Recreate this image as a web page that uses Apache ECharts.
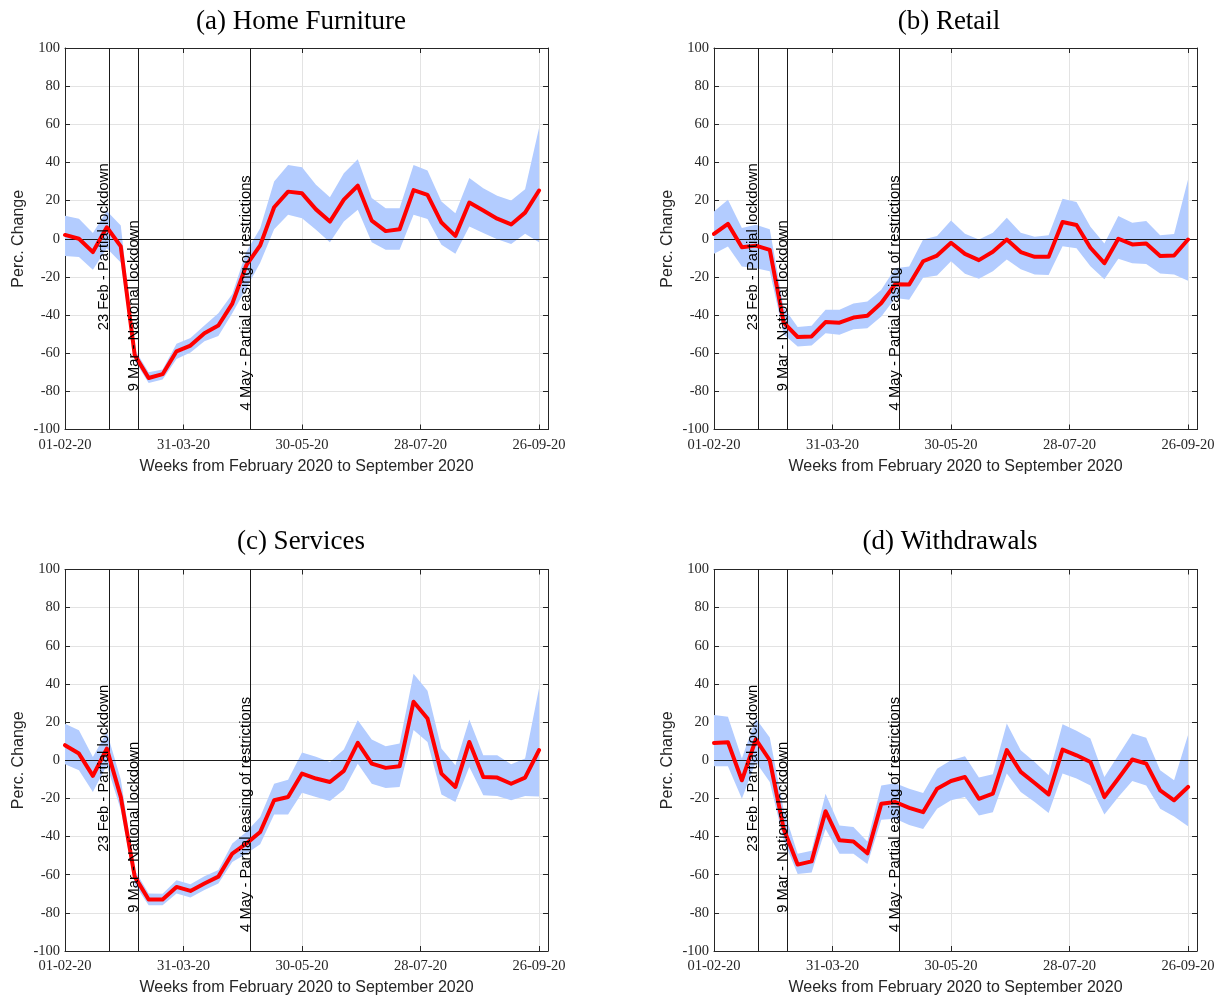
<!DOCTYPE html>
<html>
<head>
<meta charset="utf-8">
<script src="https://cdn.jsdelivr.net/npm/echarts@6/dist/echarts.min.js"></script>
<style>
html,body{margin:0;padding:0;background:#ffffff;}
#chart{width:1222px;height:1000px;}
</style>
</head>
<body>
<div id="chart"></div>
<script>
// ---- data (days since 01-02-2020, weekly) ----
const weekDays = [0,7,14,21,28,35,42,49,56,63,70,77,84,91,98,105,112,119,126,133,140,147,154,161,168,175,182,189,196,203,210,217,224,231,238];
const xTickDays = [0, 59.5, 119, 178.5, 238];
const xTickLabels = ['01-02-20','31-03-20','30-05-20','28-07-20','26-09-20'];
const eventDays = [22, 37, 93];
const eventLabels = ['23 Feb - Partial lockdown', '9 Mar - National lockdown', '4 May - Partial easing of restrictions'];
const eventLabelStart = [-48, -80, -90];
const panelTitles = ['(a) Home Furniture', '(b) Retail', '(c) Services', '(d) Withdrawals'];
const xAxisTitle = 'Weeks from February 2020 to September 2020';
const yAxisTitle = 'Perc. Change';

const hfMid = [2, 0, -7, 6, -4, -61, -73, -71, -59, -56, -49.5, -45.5, -34, -14, -3.5, 16.5, 24.7, 23.8, 15.4, 9, 20.5, 27.8, 9.5, 4, 5, 25.5, 23, 8.5, 1.5, 19, 14.8, 10.5, 7.5, 13.7, 25.3];
const hfUp  = [12, 10.5, 3, 14.5, 7, -58, -70, -68.5, -55, -52, -45.5, -39, -29, -7, 5.5, 30, 38.7, 37.5, 28.3, 21.8, 34.4, 41.7, 21.3, 16, 16, 38.7, 35.8, 19.5, 13.4, 31.8, 26.5, 22.5, 20, 26, 58];
const hfLo  = [-9, -9.6, -16.2, -5, -12.5, -64, -75.6, -73.8, -63, -59.6, -53.7, -51, -39, -26, -12.6, 5, 12.6, 10.8, 4.7, -1.9, 9, 15.2, -1.9, -5.8, -5.8, 12.6, 10.3, -3.1, -7.9, 6.4, 3, -0.2, -2.8, 2.6, -1.9];

const rtMid = [2.5, 7.8, -4.5, -3.6, -5.8, -44, -51.5, -51.2, -43.7, -44, -41.3, -40.4, -33.7, -23.8, -24, -11.8, -8.8, -2.1, -7.9, -11.2, -6.8, -0.4, -7, -9.5, -9.5, 8.8, 7.2, -4.7, -12.8, 0, -3, -2.5, -9.1, -8.8, -0.4];
const rtUp  = [14.3, 20.5, 5.6, 7.3, 5, -36, -46.3, -45.6, -37.2, -37.2, -34, -32.9, -26.7, -15.4, -14.5, -0.4, 1.4, 9.6, 2.6, -0.4, 3.2, 11, 3.2, 1, 1.8, 21, 19.3, 6.3, -2.5, 11.9, 8.4, 9.3, 1.9, 2.5, 31];
const rtLo  = [-7.9, -4, -14.5, -15.4, -17, -50, -56.5, -56, -49.5, -50.3, -47.4, -46.9, -40.7, -31, -32, -20.5, -19.3, -11.8, -18.4, -21, -17, -10.9, -16, -18.8, -19, -3.9, -5, -14.4, -21.2, -10.5, -12.8, -13.3, -18.2, -18.8, -22];

const svMid = [7.9, 3.5, -8.2, 6.1, -19.2, -61, -73, -73, -66.4, -68.5, -64.6, -61, -48.9, -43.7, -37.6, -21, -19.3, -7, -9.6, -11.4, -5.6, 9.1, -1.8, -4, -3.2, 30.7, 21.9, -7, -14, 9.6, -8.8, -9.1, -12.3, -9.1, 5.3];
const svUp  = [19.2, 15.7, 1.7, 14.8, -10, -57.6, -69.9, -70, -62.9, -65, -60.8, -57.6, -43.7, -37.6, -29.7, -12.3, -10.2, 4, 1.8, -0.9, 5.6, 21, 10.9, 7.4, 8.8, 45.3, 36.5, 6.1, -2.6, 21.4, 2.6, 2.6, -2.1, 0.9, 37.7];
const svLo  = [-2.1, -5.2, -16.6, -2.6, -26, -65, -76, -76, -69.9, -72, -68, -64.6, -53.3, -49, -44, -28.4, -28.4, -17, -19.3, -21.4, -15.4, -1.8, -12.3, -14.6, -14, 15.8, 9.6, -17.9, -21.9, -3.5, -18.4, -18.8, -21, -18.8, -19];

const wdMid = [9.1, 9.5, -10.5, 10.9, 0, -36, -54.7, -53, -26.7, -42, -42.6, -48.8, -22.8, -21.9, -25, -27.2, -14.9, -10.9, -8.8, -20.2, -17.5, 5.3, -6.1, -11.9, -17.9, 5.6, 2.6, -0.9, -19.3, -9.6, 0.4, -1.8, -15.8, -21, -14];
const wdUp  = [23.7, 22.8, 0.9, 21.9, 11.9, -26, -49, -47.4, -17.5, -34.2, -35, -42.6, -13.2, -12, -15, -17.2, -4.4, 0, 2.1, -9.1, -7.4, 19.3, 5.3, -0.9, -7.9, 18.9, 15.4, 11.4, -8.8, 2.6, 14, 11.8, -5.3, -10.5, 13.2];
const wdLo  = [-3.2, -3.2, -20.2, -0.9, -11.4, -42, -59.6, -58.8, -36, -49, -49, -54.4, -31.2, -30.7, -34, -36, -25.4, -21, -19.3, -28.9, -27.2, -7, -16.7, -21.9, -27.7, -7, -9.6, -13.2, -28.4, -19.3, -10.9, -13.2, -25.4, -29.5, -34.6];

// ---- layout / style ----
const panels = [
  {title: panelTitles[0], mid: hfMid, up: hfUp, lo: hfLo, left: 65,  top: 48,    titleX: 296, titleY: 3},
  {title: panelTitles[1], mid: rtMid, up: rtUp, lo: rtLo, left: 714, top: 48,    titleX: 944, titleY: 3},
  {title: panelTitles[2], mid: svMid, up: svUp, lo: svLo, left: 65,  top: 569.5, titleX: 296, titleY: 523},
  {title: panelTitles[3], mid: wdMid, up: wdUp, lo: wdLo, left: 714, top: 569.5, titleX: 945, titleY: 523}
];
const PW = 483, PH = 381.5;
const axisColor = '#262626';
const gridColor = '#e3e3e3';
const bandColor = '#b3ccff';
const serif = 'Liberation Serif';
const sans = 'Liberation Sans';

function fmtX(v) {
  for (let i = 0; i < xTickDays.length; i++) {
    if (Math.abs(v - xTickDays[i]) < 0.01) return xTickLabels[i];
  }
  return '';
}

const option = {
  animation: false,
  backgroundColor: '#ffffff',
  title: [], grid: [], xAxis: [], yAxis: [], series: []
};

panels.forEach((p, k) => {
  option.title.push({
    text: p.title, left: p.titleX, top: p.titleY, textAlign: 'center',
    textStyle: {fontFamily: serif, fontSize: 27, fontWeight: 'normal', color: '#000000'}
  });
  option.grid.push({left: p.left, top: p.top, width: PW, height: PH, containLabel: false, outerBoundsMode: 'none'});
  // bottom x axis
  option.xAxis.push({
    type: 'value', gridIndex: k, min: 0, max: 242.5, interval: 59.5, position: 'bottom',
    axisLine: {show: true, onZero: false, lineStyle: {color: axisColor, width: 1}},
    axisTick: {show: true, inside: true, length: 5, lineStyle: {color: axisColor}},
    axisLabel: {formatter: fmtX, margin: 8, color: axisColor, fontFamily: serif, fontSize: 14.5, showMaxLabel: true, showMinLabel: true},
    splitLine: {show: true, lineStyle: {color: gridColor, width: 1}},
    name: xAxisTitle, nameLocation: 'middle', nameGap: 29,
    nameTextStyle: {fontFamily: sans, fontSize: 16, color: axisColor}
  });
  // top x axis (box)
  option.xAxis.push({
    type: 'value', gridIndex: k, min: 0, max: 242.5, interval: 59.5, position: 'top',
    axisLine: {show: true, onZero: false, lineStyle: {color: axisColor, width: 1}},
    axisTick: {show: true, inside: true, length: 5, lineStyle: {color: axisColor}},
    axisLabel: {show: false}, splitLine: {show: false}
  });
  // left y axis
  option.yAxis.push({
    type: 'value', gridIndex: k, min: -100, max: 100, interval: 20, position: 'left',
    axisLine: {show: true, onZero: false, lineStyle: {color: axisColor, width: 1}},
    axisTick: {show: true, inside: true, length: 5, lineStyle: {color: axisColor}},
    axisLabel: {margin: 5, color: axisColor, fontFamily: serif, fontSize: 14.5},
    splitLine: {show: true, lineStyle: {color: gridColor, width: 1}},
    name: yAxisTitle, nameLocation: 'middle', nameGap: 38, nameRotate: 90,
    nameTextStyle: {fontFamily: sans, fontSize: 16, color: axisColor}
  });
  // right y axis (box)
  option.yAxis.push({
    type: 'value', gridIndex: k, min: -100, max: 100, interval: 20, position: 'right',
    axisLine: {show: true, onZero: false, lineStyle: {color: axisColor, width: 1}},
    axisTick: {show: true, inside: true, length: 5, lineStyle: {color: axisColor}},
    axisLabel: {show: false}, splitLine: {show: false}
  });

  const bandData = weekDays.map((d, i) => [d, p.lo[i], p.up[i]]);
  option.series.push({
    type: 'custom', xAxisIndex: 2 * k, yAxisIndex: 2 * k, z: 1, silent: true,
    data: bandData, encode: {x: 0, y: [1, 2]},
    renderItem: function (params, api) {
      if (params.dataIndex !== 0) return null;
      const pts = [];
      for (let i = 0; i < bandData.length; i++) pts.push(api.coord([bandData[i][0], bandData[i][2]]));
      for (let i = bandData.length - 1; i >= 0; i--) pts.push(api.coord([bandData[i][0], bandData[i][1]]));
      return {type: 'polygon', shape: {points: pts}, style: {fill: bandColor, stroke: null}};
    }
  });

  option.series.push({
    type: 'line', xAxisIndex: 2 * k, yAxisIndex: 2 * k, z: 3, silent: true,
    data: weekDays.map((d, i) => [d, p.mid[i]]),
    showSymbol: false, symbol: 'none',
    lineStyle: {color: '#ff0000', width: 4, join: 'round', cap: 'round'},
    markLine: {
      silent: true, symbol: 'none', z: 2, animation: false,
      label: {show: false},
      lineStyle: {color: '#1a1a1a', width: 1, type: 'solid'},
      data: [{yAxis: 0}].concat(eventDays.map(d => ({xAxis: d})))
    }
  });

  option.series.push({
    type: 'scatter', xAxisIndex: 2 * k, yAxisIndex: 2 * k, z: 4, silent: true,
    symbolSize: 0, itemStyle: {color: 'rgba(0,0,0,0)'},
    data: eventDays.map((d, i) => ({value: [d, eventLabelStart[i]], name: eventLabels[i]})),
    label: {
      show: true, formatter: '{b}', position: 'inside', rotate: 90,
      align: 'left', verticalAlign: 'bottom', opacity: 1, offset: [0, 3],
      fontFamily: sans, fontSize: 14.8, color: '#000000'
    }
  });
});

const chart = echarts.init(document.getElementById('chart'), null, {renderer: 'canvas'});
chart.setOption(option);
</script>
</body>
</html>
